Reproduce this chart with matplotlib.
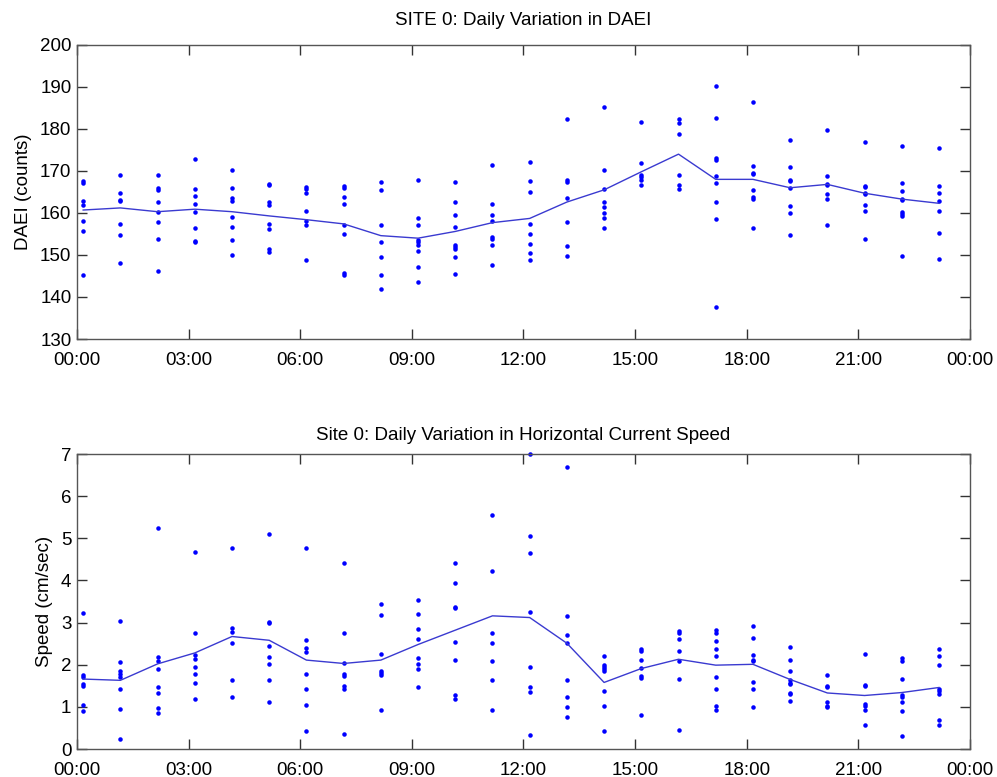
#!/usr/bin/env python3

import numpy as np
import matplotlib
matplotlib.use("Agg")
import matplotlib.pyplot as plt

plt.rcParams['font.family'] = ['Liberation Sans', 'DejaVu Sans']

# hour of day for each sample group (0..23)
hours = np.arange(24)
tick_hours = np.arange(0, 25, 3)
tick_labels = ["00:00", "03:00", "06:00", "09:00", "12:00",
               "15:00", "18:00", "21:00", "00:00"]

# DAEI samples per hour (counts)
daei_pts = [
    [167.5, 167.1, 162.8, 162.0, 158.0, 155.7, 145.2],
    [169.1, 164.7, 163.1, 162.9, 157.3, 154.8, 148.0],
    [169.1, 166.0, 165.5, 162.5, 160.3, 157.8, 153.8, 146.2],
    [172.8, 165.8, 164.0, 162.2, 160.3, 156.4, 153.4, 153.0],
    [170.3, 166.0, 163.5, 162.9, 159.1, 156.6, 153.6, 150.0],
    [166.9, 166.6, 162.5, 161.8, 157.4, 156.1, 151.4, 150.6],
    [166.2, 165.6, 164.8, 160.5, 158.0, 157.1, 148.8],
    [166.3, 166.0, 163.7, 162.2, 157.2, 155.0, 145.7, 145.3],
    [167.4, 165.5, 157.1, 153.0, 149.5, 145.2, 141.8],
    [167.9, 158.7, 157.1, 153.6, 153.0, 152.3, 150.9, 147.2, 143.6],
    [167.4, 162.5, 159.4, 156.6, 152.4, 152.0, 151.5, 149.5, 145.4],
    [171.3, 162.2, 159.6, 158.0, 154.2, 153.8, 152.3, 147.7],
    [172.2, 167.6, 165.1, 157.3, 155.0, 152.6, 150.5, 148.9],
    [182.3, 167.9, 167.3, 163.6, 157.8, 152.1, 149.8],
    [185.2, 170.3, 165.6, 162.6, 161.5, 159.9, 158.9, 156.4],
    [181.6, 172.0, 169.0, 168.5, 167.9, 166.6],
    [182.3, 181.4, 178.8, 169.0, 166.6, 165.8],
    [190.3, 182.7, 173.0, 172.6, 168.7, 167.2, 162.5, 158.5, 137.5],
    [186.4, 171.1, 169.4, 169.2, 165.5, 163.7, 163.4, 156.5],
    [177.4, 171.0, 167.9, 167.5, 166.0, 161.7, 159.9, 154.8],
    [179.7, 168.7, 166.9, 166.6, 164.4, 163.3, 157.1],
    [176.8, 166.5, 166.2, 164.8, 164.4, 161.9, 160.5, 153.8],
    [175.9, 167.1, 165.3, 163.3, 163.0, 160.2, 159.7, 159.2, 149.8],
    [175.4, 166.3, 164.8, 162.8, 160.5, 155.3, 149.1],
]
daei_mean = [160.7, 161.2, 160.3, 160.9, 160.3, 159.3, 158.4, 157.4,
             154.6, 154.0, 155.6, 157.7, 158.7, 162.6, 165.5, 169.8,
             174.0, 168.0, 168.0, 166.0, 166.8, 164.7, 163.3, 162.3]

# horizontal current speed samples per hour (cm/sec)
speed_pts = [
    [3.23, 1.76, 1.72, 1.55, 1.50, 1.04, 0.91],
    [3.03, 2.07, 1.86, 1.77, 1.70, 1.42, 0.96, 0.23],
    [5.24, 2.19, 2.08, 1.91, 1.48, 1.32, 0.97, 0.86],
    [4.68, 2.76, 2.24, 2.13, 1.94, 1.78, 1.57, 1.19],
    [4.77, 2.88, 2.78, 2.51, 1.64, 1.24],
    [5.11, 3.02, 3.00, 2.44, 2.19, 2.01, 1.64, 1.12],
    [4.76, 2.58, 2.40, 2.31, 1.78, 1.43, 1.04, 0.43],
    [4.42, 2.76, 2.03, 1.78, 1.73, 1.50, 1.43, 0.36],
    [3.44, 3.17, 2.25, 1.84, 1.80, 1.75, 0.93],
    [3.53, 3.21, 2.85, 2.62, 2.16, 2.02, 1.90, 1.47],
    [4.42, 3.94, 3.38, 3.35, 2.53, 2.12, 1.28, 1.19],
    [5.55, 4.22, 2.76, 2.51, 2.08, 1.64, 0.93],
    [7.00, 5.06, 4.65, 3.24, 1.94, 1.48, 1.35, 0.34],
    [6.70, 3.15, 2.71, 2.52, 1.64, 1.23, 0.99, 0.77],
    [2.21, 1.99, 1.95, 1.90, 1.84, 1.37, 1.03, 0.43],
    [2.37, 2.33, 2.12, 1.92, 1.74, 1.68, 0.80],
    [2.81, 2.75, 2.62, 2.33, 2.10, 1.65, 0.46],
    [2.83, 2.75, 2.56, 2.37, 2.21, 1.72, 1.43, 1.03, 0.92],
    [2.92, 2.64, 2.24, 2.12, 2.08, 1.59, 1.43, 1.00],
    [2.41, 2.11, 1.84, 1.64, 1.57, 1.54, 1.34, 1.30, 1.13],
    [1.75, 1.50, 1.46, 1.11, 1.03, 0.99],
    [2.25, 1.52, 1.50, 1.07, 1.02, 0.93, 0.56],
    [2.16, 2.10, 1.65, 1.28, 1.24, 1.11, 0.91, 0.32],
    [2.37, 2.21, 2.00, 1.43, 1.37, 1.30, 0.69, 0.58],
]
speed_mean = [1.66, 1.63, 2.02, 2.28, 2.67, 2.58, 2.11, 2.03,
              2.11, 2.48, 2.82, 3.16, 3.12, 2.51, 1.58, 1.91,
              2.13, 1.99, 2.01, 1.65, 1.33, 1.27, 1.34, 1.46]

# samples sit about 10 minutes past each hour
xpos = hours + 10 / 60.


def draw(ax, pts, mean, title, ylabel, ylim, yticks, tpad):
    for x, col in zip(xpos, pts):
        ax.plot(np.full(len(col), x), col, '.', color='blue', ms=6.5,
                mew=0, linestyle='none', clip_on=False)
    ax.plot(xpos, mean, '-', color='#3a3ad0', lw=1)
    ax.set_xlim(0, 24)
    ax.set_ylim(*ylim)
    ax.set_xticks(tick_hours)
    ax.set_xticklabels(tick_labels)
    ax.set_yticks(yticks)
    ax.set_title(title, fontsize=13.5, pad=tpad)
    ax.set_ylabel(ylabel, fontsize=13.5, labelpad=6)
    ax.tick_params(direction='in', length=7, width=1, top=True, right=True,
                   labelsize=13.5, colors='#333333', labelcolor='black')
    ax.tick_params(axis='x', pad=9)
    ax.tick_params(axis='y', pad=4)
    for s in ax.spines.values():
        s.set_color('#555555')
        s.set_linewidth(1)


fig = plt.figure(figsize=(9.97, 7.77), dpi=100)
ax1 = fig.add_axes([0.0772, 0.5637, 0.8957, 0.3785])
ax2 = fig.add_axes([0.0772, 0.036, 0.8957, 0.3797])

draw(ax1, daei_pts, daei_mean, "SITE 0: Daily Variation in DAEI",
     "DAEI (counts)", (130, 200), np.arange(130, 201, 10), 14)
draw(ax2, speed_pts, speed_mean,
     "Site 0: Daily Variation in Horizontal Current Speed",
     "Speed (cm/sec)", (0, 7), np.arange(0, 8, 1), 10)

fig.savefig("out.png", dpi=100)
